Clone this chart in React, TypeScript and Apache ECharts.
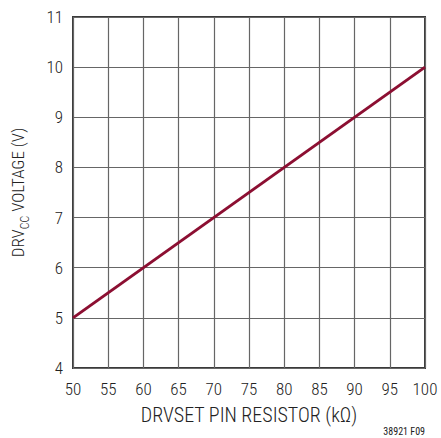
import React, { useEffect, useRef } from "react";
import * as echarts from "echarts";

const xTicks = [50, 55, 60, 65, 70, 75, 80, 85, 90, 95, 100];
const resistorK = [50, 100];
const drvccVolts = [5, 10];
const xTitle = "DRVSET PIN RESISTOR (kΩ)";
const footnote = "38921 F09";

const FONT = "'Roboto Condensed', 'DejaVu Sans Condensed', Arial, sans-serif";

export default function App() {
  const ref = useRef<HTMLDivElement>(null);
  useEffect(() => {
    if (!ref.current) return;
    const chart = echarts.init(ref.current, null, { renderer: "svg" });
    chart.setOption({
      animation: false,
      backgroundColor: "#ffffff",
      textStyle: { fontFamily: FONT },
      grid: { left: 73, right: 16, top: 17, bottom: 70, containLabel: false,
        show: true, borderColor: "#3a3a3a", borderWidth: 2 },
      xAxis: {
        type: "value",
        min: xTicks[0],
        max: xTicks[xTicks.length - 1],
        interval: 5,
        name: xTitle,
        nameLocation: "middle",
        nameGap: 37,
        nameTextStyle: { fontSize: 20, color: "#222", fontFamily: FONT, fontWeight: 300 },
        axisLine: { show: false },
        axisTick: { show: false },
        axisLabel: { fontSize: 17, color: "#222", margin: 12, fontFamily: FONT, fontWeight: 300 },
        splitLine: { show: true, lineStyle: { color: "#666", width: 1.2 } },
      },
      yAxis: {
        type: "value",
        min: 4,
        max: 11,
        interval: 1,
        name: "{a|DRV}{b|CC}{a| VOLTAGE (V)}",
        nameLocation: "middle",
        nameGap: 47,
        nameRotate: 90,
        nameTextStyle: {
          fontFamily: FONT,
          color: "#222",
          rich: {
            a: { fontSize: 17, fontFamily: FONT, fontWeight: 300, color: "#222", lineHeight: 20, verticalAlign: "bottom" },
            b: { fontSize: 12, fontFamily: FONT, fontWeight: 300, color: "#222", lineHeight: 20, verticalAlign: "bottom", padding: [0, 0, -5, 0] },
          },
        },
        axisLine: { show: false },
        axisTick: { show: false },
        axisLabel: { fontSize: 17, color: "#222", margin: 10, fontFamily: FONT, fontWeight: 300 },
        splitLine: { show: true, lineStyle: { color: "#666", width: 1.2 } },
      },
      graphic: [
        {
          type: "text",
          right: 16,
          bottom: 2,
          style: { text: footnote, fontSize: 10, fill: "#222", fontFamily: FONT },
        },
      ],
      series: [
        {
          type: "line",
          data: resistorK.map((x, i) => [x, drvccVolts[i]]),
          showSymbol: false,
          lineStyle: { color: "#8c0f32", width: 3 },
        },
      ],
    });
    return () => chart.dispose();
  }, []);
  return <div ref={ref} style={{ width: 441, height: 438, position: "absolute", left: 0, top: 0 }} />;
}
